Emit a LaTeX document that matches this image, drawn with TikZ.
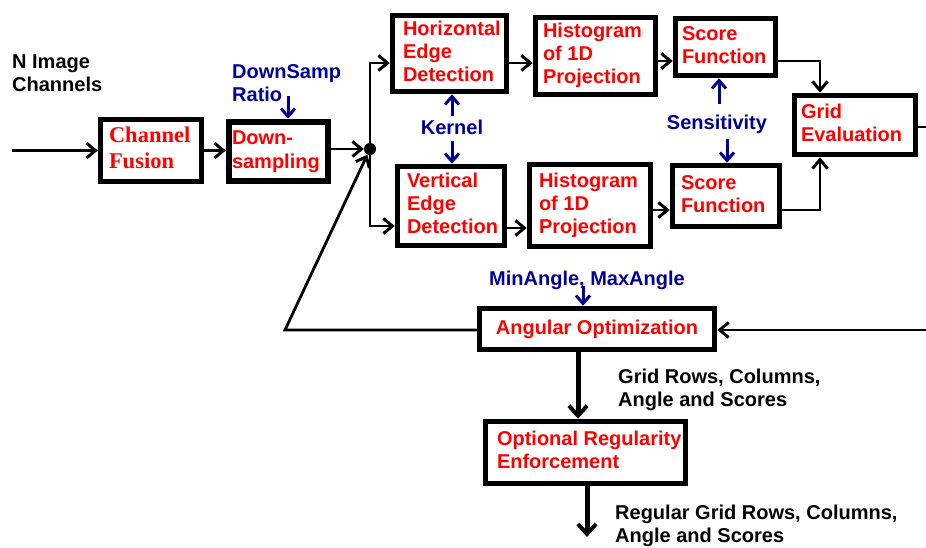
\documentclass[tikz,border=0pt]{standalone}
\usepackage{fontspec}
\setmainfont{Liberation Sans}
\newfontfamily\serifbf{Liberation Serif}
\usetikzlibrary{arrows.meta,calc}
\definecolor{myred}{RGB}{255,0,0}
\definecolor{myblue}{RGB}{0,0,150}
\newcommand\bxt[3]{\makebox[#1pt][l]{\hspace*{#2pt}\begin{tabular}{@{}l@{}}#3\end{tabular}}}
\begin{document}
\begin{tikzpicture}[x=1pt,y=-1pt,
 blk/.style={draw=black, line width=5.5pt, fill=white, inner sep=0pt, text=myred, font=\fontsize{20}{23}\selectfont\bfseries},
 lbl/.style={inner sep=0pt, font=\fontsize{20}{23}\selectfont\bfseries, align=left},
 bl/.style={lbl, text=myblue},
 arr/.style={draw=black, line width=2.8pt, -{Straight Barb[length=9pt,width=15pt,line width=3pt]}},
 barr/.style={draw=myblue, line width=3pt, -{Straight Barb[length=8pt,width=14pt,line width=3pt]}},
 tarr/.style={draw=black, line width=5pt, -{Straight Barb[length=10pt,width=18pt,line width=4pt]}},
 ln/.style={draw=black, line width=2.8pt},
]
\fill[white] (0,0) rectangle (926,548);
\useasboundingbox (0,0) rectangle (926,548);

% boxes
\node[blk, minimum height=62pt, font=\fontsize{22.5}{26}\selectfont\serifbf\bfseries] (cf) at (151,150.5) {\bxt{101}{8.5}{Channel\\Fusion}};
\node[blk, line width=6.5pt, minimum height=59pt, font=\fontsize{20}{24}\selectfont\bfseries] (ds) at (278.5,151.5) {\bxt{99}{3}{Down-\\sampling}};
\node[blk, minimum height=76pt] (hed) at (449.5,53.5) {\bxt{114}{10.5}{Horizontal\\Edge\\Detection}};
\node[blk, minimum height=77pt] (h1) at (595.5,56) {\bxt{120}{7.5}{Histogram\\of 1D\\Projection}};
\node[blk, minimum height=79pt] (ved) at (451,206) {\bxt{107}{9.5}{Vertical\\Edge\\Detection}};
\node[blk, minimum height=82pt] (h2) at (590,205.5) {\bxt{121}{9.5}{Histogram\\of 1D\\Projection}};
\node[blk, minimum height=57pt] (s1) at (725.5,47) {\bxt{100}{6.5}{Score\\Function}};
\node[blk, minimum height=61pt] (s2) at (726,196) {\bxt{107}{8.5}{Score\\Function}};
\node[blk, minimum height=59pt] (ge) at (855,125) {\bxt{121}{6.5}{Grid\\Evaluation}};
\node[blk, minimum height=41pt] (ao) at (597,329) {\makebox[235pt]{Angular Optimization}};
\node[blk, minimum height=62pt] (or) at (585.5,452.5) {\bxt{200}{11.5}{Optional Regularity\\Enforcement}};

% labels
\node[lbl, anchor=west] (nimg) at (12,73.5) {N Image\\Channels};
\node[bl, anchor=west] (dsr) at (232,83.5) {DownSamp\\Ratio};
\node[bl] (kern) at (452,127) {Kernel};
\node[bl] (sens) at (717,124) {Sensitivity};
\node[bl] (mma) at (587,280) {MinAngle, MaxAngle};
\node[lbl, anchor=west] (gr1) at (618,390) {Grid Rows, Columns,\\Angle and Scores};
\node[lbl, anchor=west] (gr2) at (615,526) {Regular Grid Rows, Columns,\\Angle and Scores};

% junction
\node[circle, fill=black, inner sep=0pt, minimum size=12pt] (dot) at (370,149) {};

% coordinates
\coordinate (inp) at (12,150.5);
\coordinate (ya) at (0,63);
\coordinate (yb) at (0,226);
\coordinate (yc) at (0,61);
\coordinate (yd) at (0,228);
\coordinate (ye) at (0,210);
\coordinate (gx) at (820,0);
\coordinate (geo) at (926,127);
\coordinate (rin) at (926,330);
\coordinate (lc) at (285,330);
\coordinate (ku) at (452,116);
\coordinate (kd) at (452,141);
\coordinate (su) at (719,104);
\coordinate (sd) at (727,139);
\coordinate (dsa) at (288,96);
\coordinate (ma) at (583,286);
\coordinate (ax) at (578,0);
\coordinate (ob) at (587,537);

% connectors
\draw[arr] (inp) -- (cf.west);
\draw[arr] (cf.east) -- (cf.east -| ds.west);
\draw[arr] (ds.east |- dot) -- (dot);
\draw[arr] (dot.center) |- (hed.west |- ya);
\draw[arr] (dot.center) |- (ved.west |- yb);
\draw[arr] (hed.east |- ya) -- (h1.west |- ya);
\draw[arr] (h1.east |- yc) -- (s1.west |- yc);
\draw[arr] (ved.east |- yd) -- (h2.west |- yd);
\draw[arr] (h2.east |- ye) -- (s2.west |- ye);
\draw[arr] (s1.east |- yc) -| (ge.north -| gx);
\draw[arr] (s2.east |- ye) -| (ge.south -| gx);
\draw[ln] (ge.east |- geo) -- (geo);
\draw[arr] (rin) -- (ao.east |- rin);
\draw[arr] (ao.west |- lc) -- (lc) -- (dot);
\draw[tarr] (ao.south -| ax) -- (or.north -| ax);
\draw[tarr] (or.south -| ob) -- (ob);

% parameter arrows
\draw[barr] (ku) -- (ku |- hed.south);
\draw[barr] (kd) -- (kd |- ved.north);
\draw[barr] (su) -- (su |- s1.south);
\draw[barr] (sd) -- (sd |- s2.north);
\draw[barr] (dsa) -- (dsa |- ds.north);
\draw[barr] (ma) -- (ma |- ao.north);
\end{tikzpicture}
\end{document}
